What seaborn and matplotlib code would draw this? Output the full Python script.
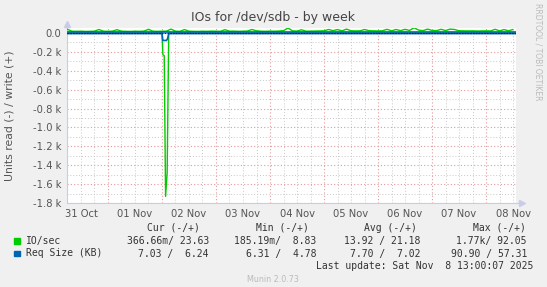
import numpy as np
import pandas as pd
import matplotlib
matplotlib.use("Agg")
import matplotlib.pyplot as plt
import seaborn as sns

# ---- data (hours since 31 Oct 00:00) ----
day_labels = ["31 Oct", "01 Nov", "02 Nov", "03 Nov", "04 Nov",
              "05 Nov", "06 Nov", "07 Nov", "08 Nov"]

io_write_hours = list(range(6, 206, 2))
io_write = [38, 18, 17, 18, 16, 17, 18, 36, 18, 17,
            19, 34, 18, 17, 16, 18, 17, 19, 38, 18,
            17, 18, 19, 40, 18, 17, 35, 18, 17, 16,
            18, 17, 19, 18, 17, 34, 18, 19, 17, 18,
            20, 36, 22, 18, 17, 19, 18, 20, 24, 52,
            22, 19, 33, 18, 19, 20, 21, 22, 36, 24,
            35, 22, 40, 23, 21, 22, 36, 24, 22, 21,
            23, 38, 22, 36, 24, 38, 26, 55, 30, 24,
            40, 26, 24, 38, 25, 40, 36, 23, 22, 21,
            22, 20, 21, 22, 21, 38, 22, 35, 23, 36]

io_read_hours = [6, 48.0, 48.4, 49.0, 49.6, 50.3, 51.0, 205.3]
io_read = [-0.4, -0.4, -230, -240, -1730, -1480, -0.4, -0.4]

req_write_hours = [6, 205.3]
req_write = [7.0, 7.0]

req_read_hours = [6, 48.0, 48.4, 50.0, 50.5, 51.0, 205.3]
req_read = [-7, -7, -80, -80, -60, -7, -7]

legend_rows = [
    ("IO/sec", "#00CC00", ["366.66m/ 23.63", "185.19m/  8.83", "13.92 / 21.18", "1.77k/ 92.05"]),
    ("Req Size (KB)", "#0066B3", ["7.03 /  6.24", "6.31 /  4.78", "7.70 /  7.02", "90.90 / 57.31"]),
]
headers = ["Cur (-/+)", "Min (-/+)", "Avg (-/+)", "Max (-/+)"]

# ---- figure ----
sns.set_theme(style="white")
plt.rcParams['font.family'] = ['DejaVu Sans']
W, H = 547, 287
fig = plt.figure(figsize=(W / 100, H / 100), dpi=100, facecolor="#F0F0F0")
ax = fig.add_axes([67 / W, 1 - 203 / H, (516 - 67) / W, (203 - 28) / H])
ax.set_facecolor("white")

xmin, xmax = 5.8, 205.3
ymin, ymax = -1800, 52
ax.set_xlim(xmin, xmax)
ax.set_ylim(ymin, ymax)

# grid
for h in range(6, 206, 6):
    if h % 24:
        ax.axvline(h, color="#C8C8C8", lw=0.7, ls=(0, (1, 2)), zorder=0)
for h in range(24, 206, 24):
    ax.axvline(h, color="#E49A9A", lw=0.8, ls=(0, (1, 2)), zorder=0.5)
for v in range(-1700, 60, 200):
    ax.axhline(v, color="#C8C8C8", lw=0.7, ls=(0, (1, 2)), zorder=0)
for v in range(-1800, 1, 200):
    ax.axhline(v, color="#E49A9A", lw=0.8, ls=(0, (1, 2)), zorder=0.5)

green = "#00CC00"
blue = "#0066B3"
sns.lineplot(x=io_write_hours, y=io_write, ax=ax, color=green, lw=1.0, zorder=3)
sns.lineplot(x=io_read_hours, y=io_read, ax=ax, color=green, lw=1.0, zorder=3)
sns.lineplot(x=req_write_hours, y=req_write, ax=ax, color=blue, lw=1.2, zorder=4)
sns.lineplot(x=req_read_hours, y=req_read, ax=ax, color=blue, lw=1.2, zorder=4)
ax.axhline(0, color="#202020", lw=0.8, ls=(0, (1.5, 1)), zorder=5)

# ticks
yt = list(range(-1800, 1, 200))
ylabels = ["0.0" if v == 0 else f"{v/1000:.1f} k" for v in yt]
ax.set_yticks(yt)
ax.set_yticklabels(ylabels)
ax.set_xticks([12 + 24 * k for k in range(len(day_labels))])
ax.set_xticklabels(day_labels)
ax.tick_params(axis="both", length=0, labelsize=7.2, colors="#555555", pad=4)

for s in ["top", "right"]:
    ax.spines[s].set_visible(False)
for s in ["left", "bottom"]:
    ax.spines[s].set_color("#C8CCE8")
    ax.spines[s].set_linewidth(0.8)
ax.plot([1.0, 1.013], [0, 0], transform=ax.transAxes, color="#C8CCE8", lw=0.8, clip_on=False)
ax.plot(1.013, 0, marker=">", ms=4, color="#C8CCE8", transform=ax.transAxes, clip_on=False)
ax.plot([0, 0], [1.0, 1.025], transform=ax.transAxes, color="#C8CCE8", lw=0.8, clip_on=False)
ax.plot(0, 1.025, marker="^", ms=4, color="#C8CCE8", transform=ax.transAxes, clip_on=False)

ax.set_xlabel("")
ax.set_ylabel("")

# texts
def fx(x): return x / W
def fy(y): return 1 - y / H

fig.text(fx(273), fy(17), "IOs for /dev/sdb - by week", ha="center", va="center",
         fontsize=9, color="#444444")
fig.text(fx(10), fy(116), "Units read (-) / write (+)", rotation=90, ha="center",
         va="center", fontsize=7.8, color="#555555")
fig.text(fx(538), fy(52), "RRDTOOL / TOBI OETIKER", rotation=270, ha="center",
         va="center", fontsize=5.5, color="#BBBBBB")

mono = "DejaVu Sans Mono"
fs = 7.0
tc = "#333333"
hdr_x = [200, 309, 417, 526]
val_x = [209, 316, 420, 527]
for hx, t in zip(hdr_x, headers):
    fig.text(fx(hx), fy(228), t, ha="right", va="center", family=mono, fontsize=fs, color=tc)
for r, (name, col, vals) in enumerate(legend_rows):
    yy = 241 + r * 12.5
    fig.patches.append(plt.Rectangle((fx(14), fy(yy + 2.7)), 5.5 / W, 5.5 / H,
                                     transform=fig.transFigure, color=col, figure=fig))
    fig.text(fx(26), fy(yy), name, ha="left", va="center", family=mono, fontsize=fs, color=tc)
    for vx, v in zip(val_x, vals):
        fig.text(fx(vx), fy(yy), v, ha="right", va="center", family=mono, fontsize=fs, color=tc)
fig.text(fx(533), fy(266), "Last update: Sat Nov  8 13:00:07 2025", ha="right", va="center",
         family=mono, fontsize=fs, color=tc)
fig.text(fx(273), fy(279), "Munin 2.0.73", ha="center", va="center", fontsize=5.8, color="#BBBBBB")

fig.savefig("out.png", dpi=100, facecolor=fig.get_facecolor())
